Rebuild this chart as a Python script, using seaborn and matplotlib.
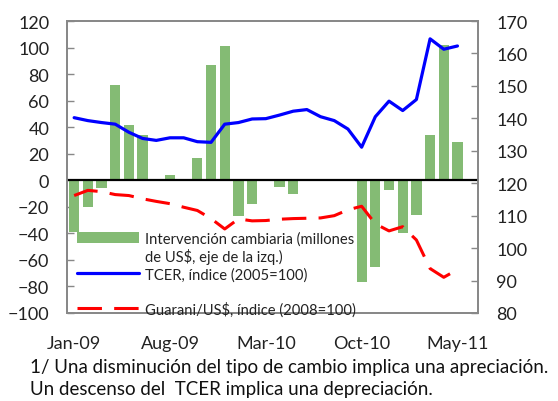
import matplotlib
matplotlib.use("Agg")
import matplotlib.pyplot as plt
import seaborn as sns
import pandas as pd
from matplotlib.patches import Patch
from matplotlib.lines import Line2D

months = ["Jan-09", "Feb-09", "Mar-09", "Apr-09", "May-09", "Jun-09", "Jul-09",
          "Aug-09", "Sep-09", "Oct-09", "Nov-09", "Dec-09", "Jan-10", "Feb-10",
          "Mar-10", "Apr-10", "May-10", "Jun-10", "Jul-10", "Aug-10", "Sep-10",
          "Oct-10", "Nov-10", "Dec-10", "Jan-11", "Feb-11", "Mar-11", "Apr-11",
          "May-11"]
intervencion = [-39, -20, -6, 72, 42, 34, 0, 4, 0, 17, 87, 101, -27, -18,
                0, -5, -10, 0, 0, 0, 0, -77, -65, -7, -40, -26, 34, 102, 29]
tcer = [140.2, 139.3, 138.7, 138.2, 135.7, 133.8, 133.2, 134.0, 134.0, 132.8,
        132.6, 138.2, 138.7, 139.8, 139.9, 141.0, 142.2, 142.7, 140.5, 139.3,
        136.7, 131.1, 140.5, 145.3, 142.4, 145.8, 164.5, 161.3, 162.3]
guarani = [116.2, 117.8, 117.4, 116.5, 116.2, 115.2, 114.4, 113.7, 112.6, 111.6,
           109.1, 105.9, 109.0, 108.4, 108.5, 108.9, 109.1, 109.2, 109.3, 110.0,
           111.8, 112.9, 107.5, 105.3, 106.6, 102.5, 93.7, 91.0, 93.4]
left_ticks = [-100, -80, -60, -40, -20, 0, 20, 40, 60, 80, 100, 120]
right_ticks = [80, 90, 100, 110, 120, 130, 140, 150, 160, 170]
label_months = ["Jan-09", "Aug-09", "Mar-10", "Oct-10", "May-11"]
legend_labels = ["Intervención cambiaria (millones", "de US$, eje de la izq.)",
                 "TCER, índice (2005=100)", "", "Guarani/US$, índice (2008=100)"]
footnote = ["1/ Una disminución del tipo de cambio implica una apreciación.",
            "Un descenso del  TCER implica una depreciación."]

sns.set_style("white")
plt.rcParams["font.family"] = ["Lato", "DejaVu Sans"]

df = pd.DataFrame({"mes": months, "interv": intervencion, "tcer": tcer,
                   "guarani": guarani, "idx": range(len(months))})

fig = plt.figure(figsize=(5.58, 4.02), dpi=100)
ax = fig.add_axes([67.3 / 558, 1 - 314 / 402, 410.7 / 558, 292 / 402])

GREEN = "#84bb74"
sns.barplot(data=df, x="mes", y="interv", ax=ax, color=GREEN, saturation=1,
            width=0.75, linewidth=0)
ax.axhline(0, color="black", lw=1.6, zorder=5)
ax.set_ylim(-100, 120)
ax.set_yticks(left_ticks)
ax.set_xlim(-0.5, 29.5)
ax.set_xticks([months.index(m) for m in label_months])
ax.set_xticklabels(label_months)
ax.set_xlabel("")
ax.set_ylabel("")
ax.tick_params(axis="x", length=0, pad=16, labelsize=13, colors="#222222")
ax.tick_params(axis="y", direction="in", length=5, width=1, color="#888888",
               pad=13, labelsize=13, labelcolor="#222222", left=True)

ax2 = ax.twinx()
sns.lineplot(data=df, x="idx", y="tcer", ax=ax2, color="#0000ff", lw=2.3)
sns.lineplot(data=df, x="idx", y="guarani", ax=ax2, color="#ff0000", lw=2.2,
             linestyle=(0, (8, 4)))
ax2.set_ylim(80, 170)
ax2.set_yticks(right_ticks)
ax2.set_xlim(-0.5, 29.5)
ax2.set_xlabel("")
ax2.set_ylabel("")
ax2.tick_params(axis="y", direction="in", length=5, width=1, color="#888888",
                pad=13, labelsize=13, labelcolor="#222222", right=True)

for a in (ax, ax2):
    for s in a.spines.values():
        s.set_visible(True)
        s.set_color("#888888")
        s.set_linewidth(1.3)

handles = [Patch(facecolor=GREEN, edgecolor="none"),
           Line2D([], [], linestyle="none"),
           Line2D([], [], color="#0000ff", lw=2.3),
           Line2D([], [], linestyle="none"),
           Line2D([], [], color="#ff0000", lw=2.2, linestyle=(0, (8, 4)))]
leg = ax2.legend(handles, legend_labels, loc="upper left",
                 bbox_to_anchor=((77 - 67.3) / 410.7, 1 - (232 - 22) / 292),
                 frameon=False, fontsize=10.6, handlelength=4.2, handleheight=0.75,
                 handletextpad=0.45, labelspacing=0.2, borderpad=0,
                 borderaxespad=0)
for t in leg.get_texts():
    t.set_color("#222222")

fig.text(30 / 558, 1 - 368 / 402, footnote[0], fontsize=13.5, color="#111111",
         va="center", ha="left")
fig.text(30 / 558, 1 - 390 / 402, footnote[1], fontsize=13.5, color="#111111",
         va="center", ha="left")

fig.savefig("out.png", dpi=100)
